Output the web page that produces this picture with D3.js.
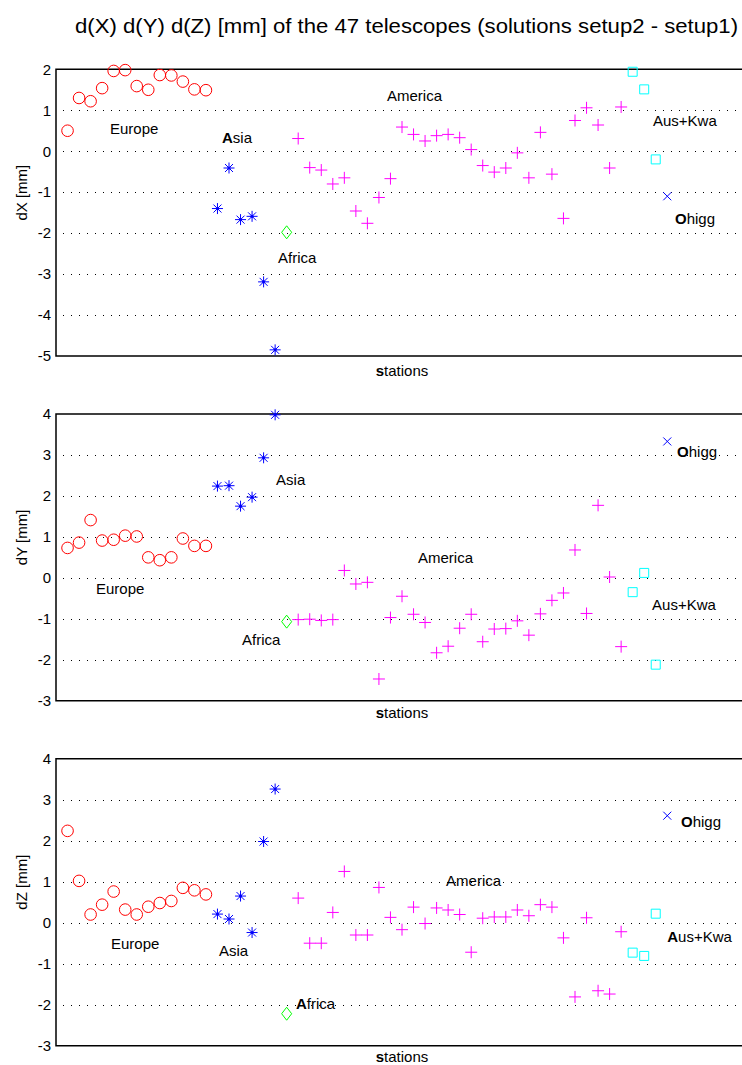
<!DOCTYPE html>
<html>
<head>
<meta charset="utf-8">
<script src="https://cdn.jsdelivr.net/npm/d3@7"></script>
<style>
  body { margin: 0; background: #fff; }
  svg { display: block; font-family: "Liberation Sans", Arial, sans-serif; }
</style>
</head>
<body>
<div id="chart"></div>
<script>
// grupos de estaciones (en orden) y cantidad de estaciones por grupo
const groups = ["Europe", "Asia", "Africa", "America", "Aus+Kwa", "Ohigg"];
const groupCounts = [13, 6, 1, 29, 3, 1];

// diferencias por estacion [mm]
const dX = [0.50, 1.30, 1.22, 1.54, 1.96, 1.98, 1.59, 1.50, 1.86, 1.85, 1.70, 1.51, 1.49,
  -1.40, -0.41, -1.67, -1.59, -3.19, -4.85,
  -1.98,
  0.31, -0.40, -0.46, -0.80, -0.65, -1.46, -1.76, -1.13, -0.67, 0.59, 0.41, 0.25, 0.38, 0.41, 0.33,
  0.04, -0.35, -0.51, -0.41, -0.04, -0.65, 0.46, -0.56, -1.64, 0.75, 1.06, 0.64, -0.41, 1.08,
  1.94, 1.51, -0.20,
  -1.10];
const dY = [0.73, 0.86, 1.41, 0.91, 0.93, 1.03, 1.01, 0.50, 0.43, 0.50, 0.96, 0.78, 0.78,
  2.24, 2.25, 1.75, 1.97, 2.93, 3.98,
  -1.07,
  -1.02, -1.01, -1.04, -1.02, 0.18, -0.15, -0.11, -2.47, -0.97, -0.45, -0.89, -1.09, -1.83, -1.67, -1.23,
  -0.89, -1.56, -1.25, -1.24, -1.05, -1.40, -0.88, -0.55, -0.37, 0.68, -0.87, 1.77, 0.02, -1.68,
  -0.35, 0.12, -2.12,
  3.33];
const dZ = [2.24, 1.02, 0.20, 0.44, 0.76, 0.32, 0.20, 0.39, 0.48, 0.53, 0.85, 0.79, 0.69,
  0.21, 0.09, 0.65, -0.24, 1.98, 3.26,
  -2.22,
  0.60, -0.50, -0.50, 0.25, 1.25, -0.30, -0.30, 0.86, 0.13, -0.17, 0.38, -0.02, 0.36, 0.31, 0.20,
  -0.72, 0.11, 0.14, 0.14, 0.31, 0.17, 0.44, 0.38, -0.37, -1.81, 0.12, -1.66, -1.74, -0.22,
  -0.73, -0.81, 0.22,
  2.61];

const yTicksX = [-5, -4, -3, -2, -1, 0, 1, 2];
const yTicksYZ = [-3, -2, -1, 0, 1, 2, 3, 4];

// etiquetas de grupo [estacion, valor] por panel
const labelsX = [[4.68, 0.52], [14.39, 0.30], [19.25, -2.63], [28.7, 1.33], [51.76, 0.72], [53.67, -1.68]];
const labelsY = [[3.47, -0.29], [19.08, 2.37], [16.13, -1.55], [31.39, 0.46], [51.68, -0.70], [53.85, 3.05]];
const labelsZ = [[4.77, -0.54], [14.13, -0.71], [20.81, -2.01], [33.82, 1.0], [53.0, -0.37], [54.19, 2.44]];
// letra inicial en negrita (artefacto de la exportacion original)
const boldX = [false, true, false, false, false, true];
const boldY = [false, false, false, false, false, true];
const boldZ = [false, false, true, false, true, true];

// grupo de cada estacion
const stationGroup = groupCounts.flatMap((n, i) => d3.range(n).map(() => i));

const colors = ["#ff0000", "#0000ff", "#00ff00", "#ff00ff", "#00ffff", "#0000ff"];

const W = 742, H = 1065;
const svg = d3.select("#chart").append("svg").attr("width", W).attr("height", H);

// titulo
svg.append("text")
  .attr("x", 75).attr("y", 33)
  .attr("font-size", 20)
  .attr("textLength", 663).attr("lengthAdjust", "spacingAndGlyphs")
  .text("d(X) d(Y) d(Z) [mm] of the 47 telescopes (solutions setup2 - setup1)");

const x = d3.scaleLinear().domain([0, 60]).range([56, 748]);

const panels = [
  { values: dX, ticks: yTicksX, domain: [-5, 2], top: 69.3, bottom: 356, xlab: 20, name: "dX [mm]", labels: labelsX, bold: boldX },
  { values: dY, ticks: yTicksYZ, domain: [-3, 4], top: 414, bottom: 700.7, xlab: 17.5, name: "dY [mm]", labels: labelsY, bold: boldY },
  { values: dZ, ticks: yTicksYZ, domain: [-3, 4], top: 758.7, bottom: 1045.7, xlab: 16.5, name: "dZ [mm]", labels: labelsZ, bold: boldZ }
];

// simbolos tipo matlab
const markerPath = (g) => {
  switch (g) {
    case 0: return null; // circulo
    case 1: return "M-5.5,0H5.5M0,-5.5V5.5M-4,-4L4,4M-4,4L4,-4";
    case 2: return "M0,-6.5L5,0L0,6.5L-5,0Z";
    case 3: return "M-6,0H6M0,-6V6";
    case 4: return "M-4.5,-4.5H4.5V4.5H-4.5Z";
    case 5: return "M-4,-4L4,4M-4,4L4,-4";
  }
};

panels.forEach((p) => {
  const y = d3.scaleLinear().domain(p.domain).range([p.bottom, p.top]);
  const g = svg.append("g");

  // grilla punteada
  g.append("g").selectAll("line")
    .data(p.ticks.filter((t) => t > p.domain[0] && t < p.domain[1]))
    .join("line")
    .attr("x1", x(0) + 7).attr("x2", W)
    .attr("y1", (d) => Math.round(y(d)) + 0.5).attr("y2", (d) => Math.round(y(d)) + 0.5)
    .attr("stroke", "#000").attr("stroke-width", 1)
    .attr("stroke-dasharray", "1,7");

  // eje y (guion normal como signo menos)
  const axisY = d3.axisLeft(y).tickValues(p.ticks).tickSize(0).tickPadding(5).tickFormat((d) => String(d));
  const ax = g.append("g").attr("transform", `translate(${x(0)},0)`).call(axisY);
  ax.select(".domain").remove();
  ax.selectAll("text").attr("font-size", 15).attr("font-family", "Liberation Sans, Arial, sans-serif").attr("fill", "#000");

  // caja (izquierda, arriba, abajo)
  g.append("path")
    .attr("d", `M${W},${p.top}H${x(0)}V${p.bottom}H${W}`)
    .attr("fill", "none").attr("stroke", "#000").attr("stroke-width", 1.5);

  // titulo eje y
  const cy = (p.top + p.bottom) / 2 - 20;
  g.append("text")
    .attr("transform", `translate(23,${cy}) rotate(-90)`)
    .attr("text-anchor", "middle").attr("dominant-baseline", "middle")
    .attr("font-size", 15)
    .text(p.name);

  // titulo eje x
  const xl = g.append("text")
    .attr("x", x(30)).attr("y", p.bottom + p.xlab)
    .attr("text-anchor", "middle").attr("font-size", 15);
  xl.append("tspan").attr("font-weight", "bold").text("s");
  xl.append("tspan").text("tations");

  // marcadores
  const pts = g.append("g").selectAll("g")
    .data(p.values.map((v, i) => ({ i: i + 1, v, grp: stationGroup[i] })))
    .join("g")
    .attr("transform", (d) => `translate(${x(d.i)},${y(d.v)})`);

  pts.filter((d) => d.grp === 0).append("circle")
    .attr("r", 5.8).attr("fill", "none")
    .attr("stroke", (d) => colors[d.grp]).attr("stroke-width", 1);

  pts.filter((d) => d.grp !== 0).append("path")
    .attr("d", (d) => markerPath(d.grp))
    .attr("fill", "none")
    .attr("stroke", (d) => colors[d.grp]).attr("stroke-width", 1);

  pts.filter((d) => d.grp === 1).append("circle")
    .attr("r", 1.6).attr("fill", colors[1]);

  // etiquetas de grupos
  p.labels.forEach((l, i) => {
    const t = g.append("text")
      .attr("x", x(l[0])).attr("y", y(l[1]))
      .attr("dominant-baseline", "middle").attr("font-size", 15);
    const name = groups[i];
    if (p.bold[i]) {
      t.append("tspan").attr("font-weight", "bold").text(name[0]);
      t.append("tspan").text(name.slice(1));
    } else {
      t.text(name);
    }
  });
});
</script>
</body>
</html>
